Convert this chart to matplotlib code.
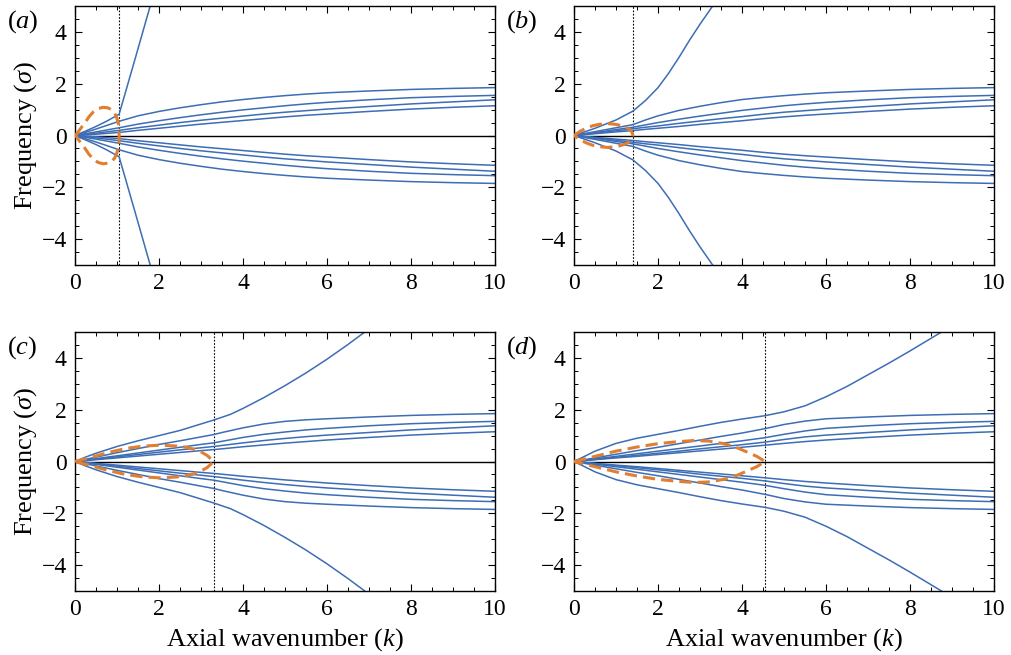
import numpy as np
import matplotlib.pyplot as plt
from matplotlib.ticker import MultipleLocator

plt.rcParams['font.family'] = ['Liberation Serif', 'DejaVu Serif']
plt.rcParams['mathtext.fontset'] = 'custom'
plt.rcParams['mathtext.rm'] = 'Liberation Serif'
plt.rcParams['mathtext.it'] = 'Liberation Serif:italic'

# critical wavenumbers (dotted lines)
kc = [1.05, 1.4, 3.3, 4.55]
labels = ['a', 'b', 'c', 'd']

# slowly saturating branches (upper half; lower half is its mirror image)
tail_k = [6, 7, 8, 9, 10]
tail = [
    [1.65, 1.72, 1.78, 1.82, 1.85],
    [1.28, 1.38, 1.46, 1.51, 1.55],
    [1.02, 1.12, 1.22, 1.30, 1.38],
    [0.83, 0.93, 1.02, 1.09, 1.15],
]

k_a = [0, 0.5, 1.05, 1.5, 2, 2.5, 3, 3.5, 4, 4.5, 5, 5.5]
slow_a = [
    [0, 0.25, 0.55, 0.76, 0.93, 1.07, 1.19, 1.30, 1.39, 1.47, 1.54, 1.60],
    [0, 0.14, 0.30, 0.44, 0.57, 0.69, 0.80, 0.90, 0.99, 1.07, 1.15, 1.22],
    [0, 0.09, 0.20, 0.30, 0.40, 0.50, 0.59, 0.67, 0.75, 0.83, 0.90, 0.96],
    [0, 0.05, 0.12, 0.20, 0.28, 0.36, 0.44, 0.51, 0.58, 0.65, 0.72, 0.78],
]
k_b = [0, 0.5, 1.0, 1.4, 1.7, 2, 2.5, 3, 3.5, 4, 4.5, 5, 5.5]
slow_b = [
    [0, 0.15, 0.30, 0.42, 0.60, 0.76, 0.97, 1.13, 1.27, 1.39, 1.47, 1.54, 1.60],
    [0, 0.11, 0.23, 0.32, 0.41, 0.50, 0.63, 0.75, 0.86, 0.97, 1.06, 1.15, 1.22],
    [0, 0.09, 0.18, 0.26, 0.32, 0.37, 0.47, 0.56, 0.65, 0.73, 0.82, 0.90, 0.96],
    [0, 0.07, 0.14, 0.19, 0.24, 0.28, 0.35, 0.43, 0.50, 0.57, 0.65, 0.72, 0.78],
]
k_c = [0, 0.5, 1, 1.5, 2, 2.5, 3, 3.3, 3.5, 4, 4.5, 5, 5.5]
slow_c = [
    [0, 0.17, 0.34, 0.50, 0.66, 0.80, 0.95, 1.04, 1.12, 1.30, 1.45, 1.55, 1.61],
    [0, 0.11, 0.22, 0.33, 0.44, 0.55, 0.66, 0.72, 0.78, 0.93, 1.05, 1.14, 1.22],
    [0, 0.09, 0.18, 0.27, 0.36, 0.45, 0.53, 0.58, 0.62, 0.72, 0.81, 0.89, 0.96],
    [0, 0.07, 0.14, 0.21, 0.28, 0.35, 0.42, 0.46, 0.49, 0.57, 0.64, 0.71, 0.77],
]
k_d = [0, 0.5, 1, 1.5, 2, 2.5, 3, 3.5, 4, 4.55, 5, 5.5]
slow_d = [
    [0, 0.14, 0.28, 0.42, 0.55, 0.69, 0.83, 0.97, 1.10, 1.27, 1.43, 1.56],
    [0, 0.10, 0.20, 0.30, 0.40, 0.50, 0.60, 0.70, 0.80, 0.92, 1.05, 1.18],
    [0, 0.08, 0.16, 0.24, 0.32, 0.40, 0.49, 0.57, 0.65, 0.75, 0.85, 0.95],
    [0, 0.07, 0.14, 0.20, 0.27, 0.34, 0.41, 0.48, 0.55, 0.63, 0.70, 0.77],
]

# fast branch that leaves the frame (upper half)
steep_k = [
    [0, 0.25, 0.5, 0.75, 1.05, 1.42, 1.79],
    [0, 0.5, 1.0, 1.4, 1.7, 2.0, 2.25, 2.5, 2.75, 3.0, 3.3],
    [0, 0.25, 0.5, 1, 1.5, 2, 2.5, 3, 3.3, 3.7, 4, 4.5, 5, 5.5, 6, 6.5, 6.9],
    [0, 0.25, 0.5, 1, 1.5, 2, 2.5, 3, 3.5, 4, 4.55, 5, 5.5, 6, 6.5, 7, 7.5, 8, 8.75],
]
steep_s = [
    [0, 0.17, 0.35, 0.55, 0.82, 2.9, 5.0],
    [0, 0.28, 0.6, 0.94, 1.35, 1.85, 2.4, 3.02, 3.68, 4.3, 5.0],
    [0, 0.17, 0.32, 0.58, 0.8, 1.0, 1.2, 1.45, 1.6, 1.82, 2.05, 2.47, 2.93, 3.42, 3.95, 4.52, 5.0],
    [0, 0.2, 0.4, 0.7, 0.9, 1.05, 1.2, 1.36, 1.51, 1.64, 1.77, 1.92, 2.15, 2.5, 2.9, 3.35, 3.8, 4.27, 5.0],
]

# unstable branch (orange dashed loop), upper half
loop_k = [
    [0, 0.05, 0.1, 0.17, 0.24, 0.33, 0.44, 0.55, 0.67, 0.78, 0.87, 0.94, 0.99, 1.03, 1.05, 1.05],
    [0, 0.05, 0.15, 0.3, 0.45, 0.6, 0.8, 1.0, 1.15, 1.27, 1.35, 1.39, 1.4],
    [0, 0.4, 0.8, 1.2, 1.6, 2.0, 2.4, 2.6, 2.8, 3.0, 3.15, 3.3],
    [0, 0.5, 1.0, 1.5, 2.0, 2.5, 2.85, 3.2, 3.6, 3.9, 4.1, 4.35, 4.55],
]
loop_s = [
    [0, 0.08, 0.2, 0.35, 0.5, 0.72, 0.92, 1.04, 1.09, 1.07, 1.0, 0.88, 0.7, 0.48, 0.25, 0],
    [0, 0.06, 0.17, 0.29, 0.38, 0.43, 0.46, 0.43, 0.37, 0.29, 0.19, 0.09, 0],
    [0, 0.17, 0.35, 0.5, 0.59, 0.63, 0.6, 0.56, 0.49, 0.37, 0.23, 0],
    [0, 0.2, 0.4, 0.56, 0.69, 0.77, 0.81, 0.79, 0.68, 0.52, 0.38, 0.2, 0],
]

slow_k = [k_a, k_b, k_c, k_d]
slow_all = [slow_a, slow_b, slow_c, slow_d]

blue = '#3d6db5'
orange = '#e07f32'

fig = plt.figure(figsize=(10.11, 6.55), dpi=100)
lefts = [0.0742, 0.5678, 0.0742, 0.5678]
bottoms = [0.5954, 0.5954, 0.0977, 0.0977]

for i in range(4):
    ax = fig.add_axes([lefts[i], bottoms[i], 0.4154, 0.3954])
    ax.axhline(0, color='black', lw=1.0, zorder=1)
    ax.axvline(kc[i], color='black', lw=0.8, ls=(0, (1.5, 1.5)), zorder=1)
    for j, s in enumerate(slow_all[i]):
        kk = slow_k[i] + tail_k
        ss = np.array(s + tail[j])
        ax.plot(kk, ss, color=blue, lw=1.1, zorder=2)
        ax.plot(kk, -ss, color=blue, lw=1.1, zorder=2)
    ax.plot(steep_k[i], steep_s[i], color=blue, lw=1.1, zorder=2)
    ax.plot(steep_k[i], -np.array(steep_s[i]), color=blue, lw=1.1, zorder=2)
    lk = loop_k[i] + loop_k[i][::-1]
    ls_ = loop_s[i] + [-v for v in loop_s[i][::-1]]
    ax.plot(lk, ls_, color=orange, lw=2.2, ls=(0, (4, 2)), zorder=3)

    ax.set_xlim(0, 10)
    ax.set_ylim(-5, 5)
    ax.xaxis.set_major_locator(MultipleLocator(2))
    ax.xaxis.set_minor_locator(MultipleLocator(0.5))
    ax.yaxis.set_major_locator(MultipleLocator(2))
    ax.yaxis.set_minor_locator(MultipleLocator(0.5))
    ax.tick_params(which='both', direction='in', top=True, right=True, labelsize=17)
    ax.tick_params(which='major', length=5, width=0.8, pad=6)
    ax.tick_params(which='minor', length=3, width=0.7)
    for sp in ax.spines.values():
        sp.set_linewidth(1.0)
    if i % 2 == 0:
        ax.set_ylabel(r'Frequency ($\sigma$)', fontsize=19, labelpad=2)
    if i >= 2:
        ax.set_xlabel(r'Axial wavenumber ($k$)', fontsize=19, labelpad=4)
    ax.text(-0.162, 0.99, '($\\mathit{%s}$)' % labels[i], transform=ax.transAxes,
            fontsize=19, va='top', ha='left')

fig.savefig('out.png', dpi=100)
